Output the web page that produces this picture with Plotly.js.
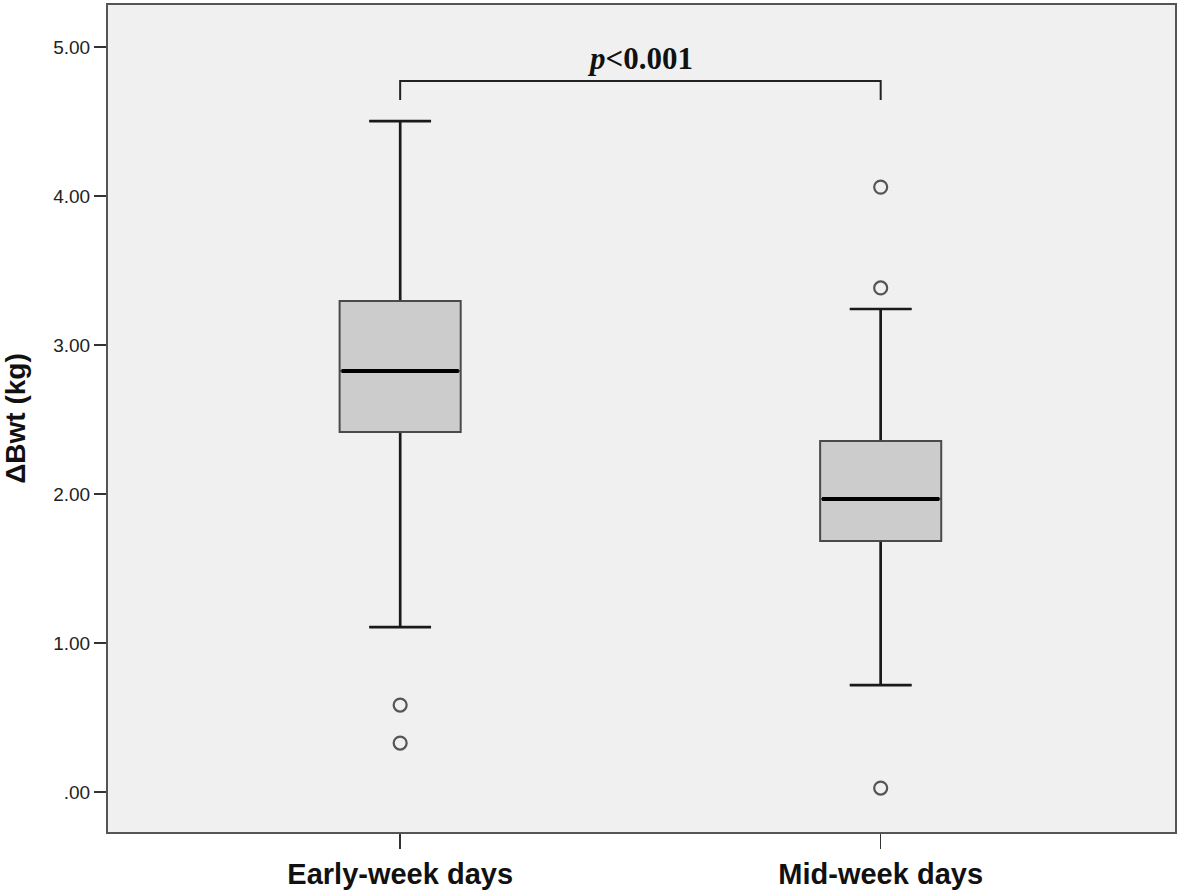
<!DOCTYPE html>
<html>
<head>
<meta charset="utf-8">
<script src="https://cdn.plot.ly/plotly-3.0.1.min.js"></script>
<style>html,body{margin:0;padding:0;background:#fff;}#chart{width:1181px;height:890px;}</style>
</head>
<body>
<div id="chart"></div>
<script>
// Data
const groups = ["Early-week days", "Mid-week days"];
const groupPos = [0, 1];
const lowerWhisker = [1.107, 0.718];
const q1 = [2.416, 1.685];
const median = [2.826, 1.966];
const q3 = [3.295, 2.356];
const upperWhisker = [4.503, 3.242];
const outliers = [[0.584, 0.329], [4.06, 3.383, 0.027]];
const yTickVals = [0, 1, 2, 3, 4, 5];
const yTickText = [".00", "1.00", "2.00", "3.00", "4.00", "5.00"];
const pText = "<i>p</i>&lt;0.001";

const boxWidth = 0.252;
const capFrac = 0.51;
const traces = [];
traces.push({
  type: "box",
  x: groupPos,
  q1: q1, median: median, q3: q3,
  lowerfence: lowerWhisker, upperfence: upperWhisker,
  width: boxWidth,
  whiskerwidth: capFrac,
  fillcolor: "#cccccc",
  line: {color: "#4a4a4a", width: 2},
  boxpoints: false,
  hoverinfo: "skip",
  showlegend: false
});
// darker whiskers and caps drawn over the box trace's own
groupPos.forEach((p, i) => {
  const cw = boxWidth * capFrac / 2;
  traces.push({
    type: "scatter", mode: "lines",
    x: [p, p, null, p, p, null, p - cw, p + cw, null, p - cw, p + cw],
    y: [q3[i] + 0.006, upperWhisker[i], null, q1[i] - 0.006, lowerWhisker[i], null,
        upperWhisker[i], upperWhisker[i], null, lowerWhisker[i], lowerWhisker[i]],
    line: {color: "#1a1a1a", width: 2.6},
    hoverinfo: "skip", showlegend: false
  });
});
// thick black median lines
groupPos.forEach((p, i) => {
  traces.push({
    type: "scatter", mode: "lines",
    x: [p - boxWidth / 2 + 0.004, p + boxWidth / 2 - 0.004],
    y: [median[i], median[i]],
    line: {color: "#000", width: 4},
    hoverinfo: "skip", showlegend: false
  });
});
// outliers
groupPos.forEach((p, i) => {
  traces.push({
    type: "scatter", mode: "markers",
    x: outliers[i].map(() => p),
    y: outliers[i],
    marker: {symbol: "circle-open", size: 13, color: "#555", line: {width: 2.2, color: "#555"}},
    hoverinfo: "skip", showlegend: false
  });
});

const bracketLow = 4.644, bracketHigh = 4.772;
const layout = {
  width: 1181, height: 890,
  margin: {l: 108, r: 6, t: 5, b: 58},
  paper_bgcolor: "#ffffff",
  plot_bgcolor: "#f0f0f0",
  showlegend: false,
  xaxis: {
    range: [-0.608, 1.6125],
    tickvals: groupPos, ticktext: groups,
    ticks: "outside", ticklen: 15, tickwidth: 1.5, tickcolor: "#333",
    showline: true, mirror: true, linecolor: "#555", linewidth: 2,
    showgrid: false, zeroline: false,
    tickfont: {family: "Liberation Sans, Arial, sans-serif", size: 29, color: "#111", weight: "bold"},
    fixedrange: true
  },
  yaxis: {
    range: [-0.268, 5.282],
    tickvals: yTickVals, ticktext: yTickText,
    ticks: "outside", ticklen: 12, tickwidth: 2, tickcolor: "#333",
    showline: true, mirror: true, linecolor: "#555", linewidth: 2,
    showgrid: false, zeroline: false,
    tickfont: {family: "Liberation Sans, Arial, sans-serif", size: 19, color: "#222"},
    title: {text: "ΔBwt (kg)", font: {family: "Liberation Sans, Arial, sans-serif", size: 28, color: "#111", weight: "bold"}, standoff: 22},
    fixedrange: true
  },
  shapes: [{
    type: "path", xref: "x", yref: "y",
    path: `M ${groupPos[0]},${bracketLow} L ${groupPos[0]},${bracketHigh} L ${groupPos[1]},${bracketHigh} L ${groupPos[1]},${bracketLow}`,
    line: {color: "#222", width: 2}
  }],
  annotations: [{
    x: (groupPos[0] + groupPos[1]) / 2, y: bracketHigh, xref: "x", yref: "y",
    yanchor: "bottom", yshift: 3,
    text: pText, showarrow: false,
    font: {family: "Liberation Serif, Times New Roman, serif", size: 31, color: "#111", weight: "bold"}
  }]
};
Plotly.newPlot("chart", traces, layout, {staticPlot: true, displayModeBar: false});
</script>
</body>
</html>
